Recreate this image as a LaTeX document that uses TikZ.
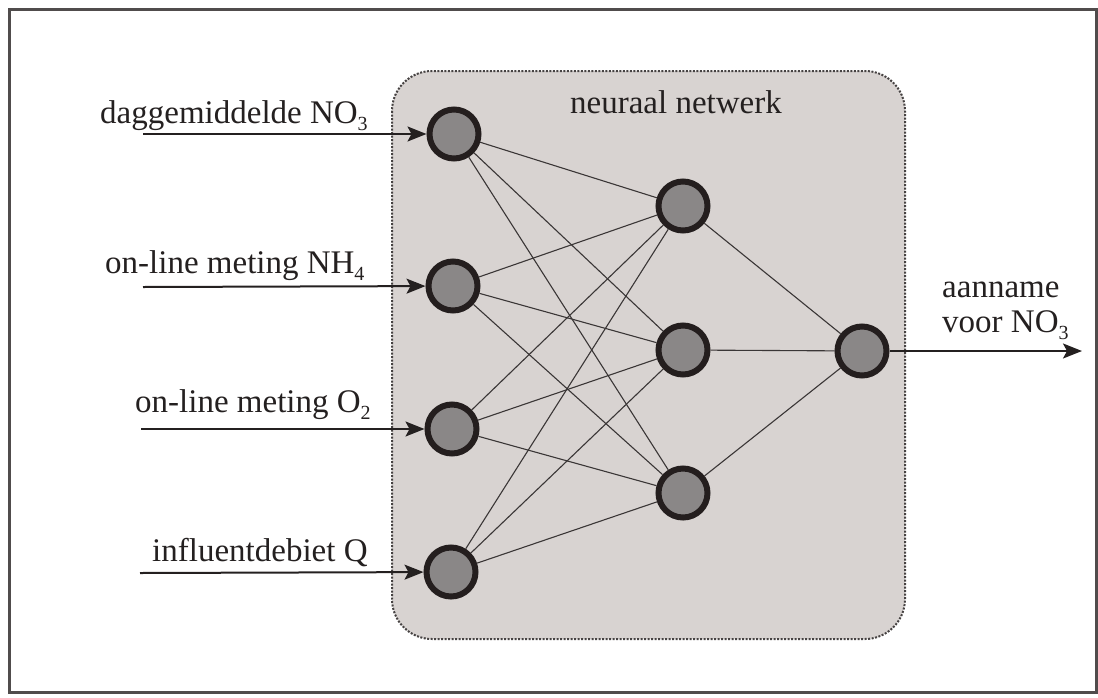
\documentclass[tikz,border=0pt]{standalone}
\usepackage{fontspec}
\setmainfont{Liberation Serif}
\usetikzlibrary{arrows.meta}
\definecolor{ink}{RGB}{36,32,32}
\definecolor{framec}{RGB}{80,76,76}
\definecolor{panelc}{RGB}{216,211,209}
\definecolor{panelline}{RGB}{70,66,66}
\definecolor{ringc}{RGB}{36,30,30}
\definecolor{cellc}{RGB}{138,135,135}
\definecolor{wirec}{RGB}{58,54,54}
% lowered, smaller index for chemical formulas
\newcommand\chemsub[1]{\raisebox{-7pt}{\fontsize{20}{20}\selectfont #1}}
\begin{document}
\begin{tikzpicture}[x=1pt,y=-1pt,
  font=\fontsize{33}{36}\selectfont, text=ink,
  neuron/.style={circle, draw=ringc, line width=6pt, fill=cellc,
                 minimum size=49pt, inner sep=0pt},
  link/.style={draw=wirec, line width=1.1pt},
  feed/.style={draw=ink, line width=2pt,
               -{Stealth[length=19pt,width=15pt,inset=4pt]}},
  label/.style={anchor=base west, inner sep=0pt}]

\useasboundingbox (0,0) rectangle (1098,697);

% outer frame
\draw[framec, line width=3pt] (9,9) rectangle (1096,692);

% network panel
\draw[panelline, fill=panelc, line width=2pt, dash pattern=on 2pt off 1.5pt,
      rounded corners=40pt] (392,71) rectangle (905,639);
\node[label] (title) at (570,113) {neuraal netwerk};

% input layer
\node[neuron] (i1) at (454,134) {};
\node[neuron] (i2) at (453,286) {};
\node[neuron] (i3) at (452,429) {};
\node[neuron] (i4) at (451,572) {};

% hidden layer
\node[neuron] (h1) at (683,206) {};
\node[neuron] (h2) at (683,350) {};
\node[neuron] (h3) at (683,493) {};

% output layer
\node[neuron] (o1) at (862,351) {};

% weights
\foreach \a in {i1,i2,i3,i4}
  \foreach \b in {h1,h2,h3}
    \draw[link] (\a) -- (\b);
\foreach \b in {h1,h2,h3}
  \draw[link] (\b) -- (o1);

% inputs
\node[label] (l1) at (100,123) {daggemiddelde NO\chemsub{3}};
\node[label] (l2) at (105,273) {on-line meting NH\chemsub{4}};
\node[label] (l3) at (135,412) {on-line meting O\chemsub{2}};
\node[label] (l4) at (152,561) {influentdebiet Q};

\coordinate (s1) at (143,134);
\coordinate (s2) at (143,287);
\coordinate (s3) at (141,429);
\coordinate (s4) at (140,573);
\draw[feed] (s1) -- (i1);
\draw[feed] (s2) -- (i2);
\draw[feed] (s3) -- (i3);
\draw[feed] (s4) -- (i4);

% output
\coordinate (t1) at (1082,351);
\draw[feed] (o1) -- (t1);
\node[label] (r1) at (942,297) {aanname};
\node[label] (r2) at (942,332) {voor NO\chemsub{3}};

\end{tikzpicture}
\end{document}
